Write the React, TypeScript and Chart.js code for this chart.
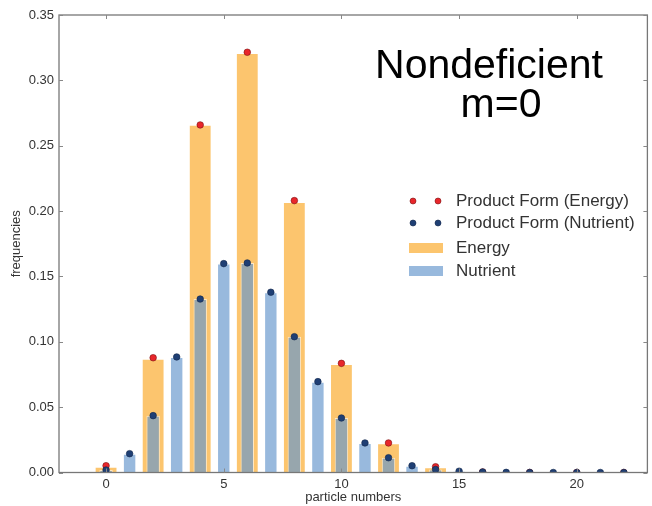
import React, { useEffect, useRef } from "react";
import { Chart, registerables } from "chart.js";

Chart.register(...registerables);

const energyX = [0, 2, 4, 6, 8, 10, 12, 14];
const energyBars = [0.0044, 0.087, 0.266, 0.321, 0.207, 0.083, 0.0223, 0.004];
const energyProductX = [0, 2, 4, 6, 8, 10, 12, 14, 16, 18, 20, 22];
const energyProduct = [0.0052, 0.0878, 0.2659, 0.3215, 0.208, 0.0835, 0.0226, 0.0044, 0.0004, 0, 0, 0];
const nutrientX = [0, 1, 2, 3, 4, 5, 6, 7, 8, 9, 10, 11, 12, 13, 14, 15, 16, 17, 18, 19, 20, 21, 22];
const nutrientBars = [0.0019, 0.0144, 0.0435, 0.0884, 0.1327, 0.1598, 0.1603, 0.1379, 0.1039, 0.0695, 0.0417, 0.0226, 0.0113, 0.0052, 0.0023, 0.001, 0.0004, 0.0001, 0.0001, 0.0001, 0, 0, 0];
const nutrientProduct = [0.0019, 0.0144, 0.0435, 0.0884, 0.1327, 0.1598, 0.1603, 0.1379, 0.1039, 0.0695, 0.0417, 0.0226, 0.0113, 0.0052, 0.0023, 0.001, 0.0004, 0.0001, 0.00005, 0, 0, 0, 0];
const xTicks = [0, 5, 10, 15, 20];
const yTicks = [0, 0.05, 0.1, 0.15, 0.2, 0.25, 0.3, 0.35];
const titleLines = ["Nondeficient", "m=0"];
const labels = ["Product Form (Energy)", "Product Form (Nutrient)", "Energy", "Nutrient"];

const FONT = "'Liberation Sans', Arial, sans-serif";
const RED = "#e8262b";
const NAVY = "#1f3f74";
const ORANGE = "rgba(251,172,48,0.7)";
const BLUE = "rgba(101,151,204,0.67)";

const decor = {
  id: "decor",
  afterDatasetsDraw(chart: any) {
    const { ctx, chartArea: a, scales } = chart;
    ctx.save();
    ctx.strokeStyle = "#777";
    ctx.lineWidth = 1.3;
    ctx.strokeRect(a.left, a.top, a.right - a.left, a.bottom - a.top);
    ctx.lineWidth = 1;
    ctx.strokeStyle = "#888";
    const L = 4;
    for (const v of xTicks) {
      const px = Math.round(scales.x.getPixelForValue(v)) + 0.5;
      ctx.beginPath();
      ctx.moveTo(px, a.top); ctx.lineTo(px, a.top + L);
      ctx.moveTo(px, a.bottom); ctx.lineTo(px, a.bottom - L);
      ctx.stroke();
    }
    for (const v of yTicks) {
      const py = Math.round(scales.y.getPixelForValue(v)) + 0.5;
      ctx.beginPath();
      ctx.moveTo(a.left, py); ctx.lineTo(a.left + L, py);
      ctx.moveTo(a.right, py); ctx.lineTo(a.right - L, py);
      ctx.stroke();
    }
    ctx.restore();
  },
  afterDraw(chart: any) {
    const { ctx } = chart;
    ctx.save();
    // annotation title
    ctx.fillStyle = "#000";
    ctx.font = `41px ${FONT}`;
    ctx.textAlign = "center";
    ctx.textBaseline = "alphabetic";
    ctx.fillText(titleLines[0], 489, 77.5);
    ctx.fillText(titleLines[1], 501, 117);
    // legend
    const ds = chart.data.datasets;
    const rows = [201, 223, 248, 271];
    ctx.font = `17px ${FONT}`;
    ctx.textAlign = "left";
    ctx.textBaseline = "middle";
    rows.forEach((y, i) => {
      const d = ds[i];
      if (d.type === "line") {
        for (const x of [413, 438]) {
          ctx.beginPath();
          ctx.arc(x, y, 3, 0, Math.PI * 2);
          ctx.fillStyle = d.pointBackgroundColor;
          ctx.fill();
          ctx.lineWidth = 0.6;
          ctx.strokeStyle = d.pointBorderColor;
          ctx.stroke();
        }
      } else {
        ctx.fillStyle = d.backgroundColor;
        ctx.fillRect(409, y - 5, 34, 10);
      }
      ctx.fillStyle = "#333";
      ctx.fillText(d.label, 456, y);
    });
    ctx.restore();
  },
};

export default function App() {
  const ref = useRef<HTMLCanvasElement | null>(null);
  useEffect(() => {
    if (!ref.current) return;
    const chart = new Chart(ref.current, {
      type: "bar",
      data: {
        datasets: [
          {
            type: "line",
            label: labels[0],
            data: energyProductX.map((x, i) => ({ x, y: energyProduct[i] })),
            showLine: false,
            pointRadius: 3.3,
            pointBackgroundColor: RED,
            pointBorderColor: "#7a1010",
            pointBorderWidth: 0.6,
            borderWidth: 0,
            order: 1,
          } as any,
          {
            type: "line",
            label: labels[1],
            data: nutrientX.map((x, i) => ({ x, y: nutrientProduct[i] })),
            showLine: false,
            pointRadius: 3.3,
            pointBackgroundColor: NAVY,
            pointBorderColor: "#10254a",
            pointBorderWidth: 0.6,
            borderWidth: 0,
            order: 0,
          } as any,
          {
            type: "bar",
            label: labels[2],
            data: energyX.map((x, i) => ({ x, y: energyBars[i] })),
            backgroundColor: ORANGE,
            borderColor: "rgba(255,255,255,0.5)",
            borderWidth: 1,
            barPercentage: 0.97,
            categoryPercentage: 1,
            grouped: false,
            order: 3,
          } as any,
          {
            type: "bar",
            label: labels[3],
            data: nutrientX.map((x, i) => ({ x, y: nutrientBars[i] })),
            backgroundColor: BLUE,
            borderColor: "rgba(255,255,255,0.6)",
            borderWidth: 1,
            barPercentage: 0.57,
            categoryPercentage: 1,
            grouped: false,
            order: 2,
          } as any,
        ],
      },
      options: {
        animation: false,
        responsive: true,
        maintainAspectRatio: false,
        layout: { padding: { left: 0, right: 4, top: 15, bottom: 0 } },
        plugins: { legend: { display: false }, tooltip: { enabled: false } },
        scales: {
          x: {
            type: "linear",
            min: -2,
            max: 23,
            offset: false,
            grid: { display: false, drawTicks: false },
            border: { display: false },
            afterBuildTicks: (s: any) => { s.ticks = xTicks.map((v) => ({ value: v })); },
            afterFit: (s: any) => { s.height = 33.5; },
            ticks: { padding: 4, color: "#333", font: { family: FONT, size: 13 }, maxRotation: 0, autoSkip: false },
            title: { display: true, text: "particle numbers", color: "#333", font: { family: FONT, size: 13 }, padding: { top: 0, bottom: 1 } },
          },
          y: {
            type: "linear",
            min: 0,
            max: 0.35,
            grid: { display: false, drawTicks: false },
            border: { display: false },
            afterBuildTicks: (s: any) => { s.ticks = yTicks.map((v) => ({ value: v })); },
            afterFit: (s: any) => { s.width = 59; },
            ticks: { padding: 5, color: "#333", font: { family: FONT, size: 13 }, callback: (v: any) => Number(v).toFixed(2) },
            title: { display: true, text: "frequencies", color: "#333", font: { family: FONT, size: 13 }, padding: { top: 9, bottom: 0 } },
          },
        },
      },
      plugins: [decor],
    });
    return () => chart.destroy();
  }, []);
  return (
    <div style={{ position: "fixed", left: 0, top: 0, width: 652, height: 506, background: "#fff" }}>
      <canvas ref={ref} />
    </div>
  );
}
